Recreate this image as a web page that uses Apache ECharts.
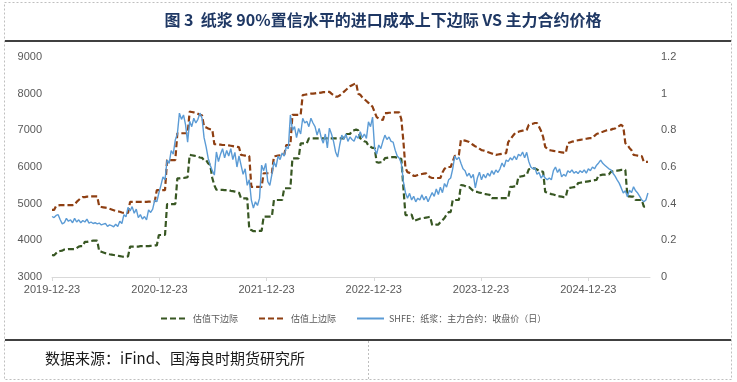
<!DOCTYPE html>
<html><head><meta charset="utf-8">
<script src="https://cdn.jsdelivr.net/npm/echarts@6/dist/echarts.min.js"></script>
<style>html,body{margin:0;padding:0;background:#fff}#c{width:737px;height:382px}</style>
</head><body><div id="c"></div>
<script>
// ---- data (weekly samples, starting 2019-12-23) ----
const startDate = [2019, 12, 23];
const axisEnd = [2025, 7, 21];
const xTickLabels = ['2019-12-23','2020-12-23','2021-12-23','2022-12-23','2023-12-23','2024-12-23'];
const seriesNames = ['估值下边际','估值上边际','SHFE：纸浆：主力合约：收盘价（日）'];

const lowerBound = [
3600,3590,3650,3700,3710,3720,3750,3750,3760,3760,3760,3760,3790,3830,3840,3840,
3960,3960,3970,3980,3990,3990,3990,
3700,3690,3670,3650,3640,3620,3610,3600,
3590,3580,3570,3560,3550,3550,3560,
3830,3830,3830,3830,3830,3840,3840,3840,3840,3840,3850,3855,3860,3860,
4145,4145,4145,4145,
4990,4990,4990,4990,4990,
5690,5690,5700,5700,5710,5720,
6330,6320,6310,6300,6280,6260,6250,6190,6190,6100,6055,5700,5500,
5380,5380,5375,5375,5370,5370,5370,5350,5340,5330,5320,5300,
5145,5145,5145,5145,4300,4280,4250,4250,4260,4260,4260,
4645,4645,4645,4645,4645,5100,5100,5100,5100,5100,5420,5420,5420,5420,
6235,6235,6235,6235,6645,6645,6645,6645,
6780,6780,6780,6780,6780,6780,6780,6780,6780,6780,6780,6780,6780,6780,6780,6780,6780,6780,
6900,6900,6900,6980,7000,7020,7000,
6780,6750,6700,6680,6580,6550,6520,6520,6130,6120,6130,6140,
6240,6250,6260,6270,6270,6270,6250,6230,6220,5430,
4690,4690,4700,4700,4530,4550,4570,4590,4600,4610,4620,4630,4640,
4420,4420,4430,4430,4500,4550,4610,4700,4770,4770,
5100,5100,5100,5100,5510,5500,5480,5450,5450,5400,5350,5320,
5320,5300,5290,5270,5260,5250,5240,
5150,5150,5150,5150,5150,5150,5150,5150,5150,
5460,5460,5470,5470,5735,5740,5750,5770,5780,5935,5950,5960,5960,5930,5900,5880,5870,
5320,5300,5280,5260,5250,5230,5210,5200,5190,5180,5180,
5420,5430,5440,5450,5460,5560,5570,5580,5590,5600,5610,5620,5630,5640,5650,
5780,5780,5790,5790,5800,5800,5870,5880,5890,5900,5910,5920,5920,5920,
5200,5200,5190,5190,5100,5100,5100,5100,4920,4920,4920
];

const upperBound = [
4830,4830,4940,4950,4960,4960,4960,4960,4960,4960,4960,4970,5050,5100,5150,5180,
5180,5190,5190,5200,5200,5200,5200,
4920,4910,4900,4890,4880,4860,4840,4820,4800,4790,4780,4760,4750,4745,4750,
5050,5050,5050,5050,5050,5050,5050,5050,5050,5055,5055,5060,5060,
5370,5370,5370,5370,5370,6190,6190,6190,6190,6190,
6920,6920,6920,6920,6920,6920,
7510,7500,7490,7480,7450,7420,7410,7100,7080,7050,7030,7020,
6620,6620,6610,6610,6600,6600,6600,6590,6580,6570,6560,6550,6540,
6330,6320,6310,6300,6300,
5460,5460,5460,5460,5460,5460,5830,5830,5830,5830,5830,
6290,6300,6310,6320,6330,6330,6600,6600,6600,
7420,7420,7420,7420,7420,
7960,7970,7980,7990,8000,8000,8010,8020,8020,8030,8040,8040,8050,8050,
8000,7960,7920,7920,7950,8000,8050,8100,8150,8200,8230,8260,8290,
8000,7970,7900,7850,7800,7750,7700,7640,7500,7360,7320,7300,7280,
7470,7470,7480,7480,7490,7490,7490,7490,7300,6700,5970,
5860,5840,5800,5760,5760,5780,5800,5810,5820,5830,5760,5720,5700,5700,5700,5700,5700,
5850,5950,6000,6000,6000,6150,6300,6320,6330,
6740,6730,6720,6700,6680,6640,6600,6560,6550,6500,6460,
6450,6430,6410,6390,6370,6350,6330,6340,6350,6360,6370,6380,
6680,6750,6830,6900,6950,6960,6980,6990,7000,7010,
7150,7170,7180,7200,7200,7100,6980,6820,6550,6500,6460,
6450,6440,6430,6420,6410,6400,6390,6380,
6650,6670,6690,6700,6720,6730,6740,6750,6760,6770,6780,6790,6790,
6850,6900,6920,6950,6960,6980,7000,7010,7020,7040,7050,7100,7120,7150,7100,
6650,6600,6520,6460,6330,6320,6310,6300,6300,6140,6140,6140
];

const closePrice = [
4650,4620,4680,4700,4560,4450,4480,4600,4520,4560,
4480,4600,4500,4560,4480,4540,4500,4580,4470,4500,
4460,4480,4450,4470,4420,4440,4460,4380,4420,4400,
4370,4440,4380,4520,4460,4700,4640,4900,4800,4920,
4740,4850,4620,4700,4580,4650,4560,4830,4760,4850,
5100,5050,5290,5500,5730,5650,6190,6100,6450,6350,
6740,6900,7470,7300,7420,7150,6680,7250,7100,7330,
7200,7300,7470,7330,6800,6550,6240,6050,5900,5780,
6410,6150,6350,6500,6250,6450,6300,6500,6200,6400,
6000,6300,6050,5800,5950,5500,5650,5100,4880,5050,
4950,5150,6050,5900,6100,5600,5500,5800,6140,6000,
6300,6200,6380,6300,6550,6500,7420,7000,7100,6800,
7050,6900,7330,7200,7250,7100,7330,7200,7100,6870,
7050,6800,6650,6900,6520,7060,6900,6700,6410,6270,
6600,6870,6750,6900,6700,6820,6750,6700,6850,6780,
6960,6800,6900,6780,7230,7100,7360,6500,6350,6600,
6500,6700,6870,6750,6820,6700,6680,6460,6300,6240,
6100,5600,5300,5150,5280,5100,5200,5050,5150,5100,
5240,5100,5200,5050,5180,5300,5200,5400,5250,5450,
5300,5550,5450,5650,5700,5950,6300,6200,6270,6100,
5950,5900,5750,5830,5700,5800,5430,5700,5860,5650,
5800,5700,5830,5750,5900,5800,5920,5850,5950,6110,
6000,6190,6150,6250,6190,6300,6200,6350,6300,6410,
6250,6400,6150,6000,5950,5980,5800,5850,5700,5780,
5700,5650,5700,5650,5900,6000,5850,5950,5730,5800,
5750,5900,5850,5920,5830,5880,5820,5900,5850,5920,
5830,5950,5900,6000,5950,6050,6110,6190,6100,6050,
6000,5950,5920,5830,5750,5650,5560,5430,5290,5350,
5190,5370,5300,5460,5350,5290,5200,5100,5050,5100,5290
];

// ---- helpers: x is measured in days since the start date ----
const DAY = 86400000;
function ymd(a){ return Date.UTC(a[0], a[1]-1, a[2]); }
const t0 = ymd(startDate);
function dayOf(a){ return Math.round((ymd(a) - t0) / DAY); }
function pair(arr){ return arr.map((v,i)=>[7*i, v]); }
const tickDays = xTickLabels.map(s => dayOf(s.split('-').map(Number)));
function pad(n){ return (n<10?'0':'')+n; }
function fmt(d){ const t = new Date(t0 + d*DAY); return t.getUTCFullYear()+'-'+pad(t.getUTCMonth()+1)+'-'+pad(t.getUTCDate()); }

const labelFont = 'Liberation Sans';
const cjk = 'Noto Sans CJK SC';
const chart = echarts.init(document.getElementById('c'), null, {renderer:'canvas'});
chart.setOption({
  animation: false,
  backgroundColor: '#fff',
  grid: { left: 52, right: 87, top: 57, bottom: 105, containLabel: false },
  legend: {
    data: seriesNames,
    left: 155, top: 309,
    itemWidth: 27, itemHeight: 10, itemGap: 20,
    itemStyle: { opacity: 0 },
    textStyle: { fontSize: 9, color: '#595959', fontFamily: cjk }
  },
  xAxis: {
    type: 'value',
    min: 0, max: dayOf(axisEnd),
    axisLine: { show: true, lineStyle: { color: '#D9D9D9', width: 1 } },
    axisTick: { show: true, length: 4, lineStyle: { color: '#D9D9D9' }, customValues: tickDays },
    axisLabel: { customValues: tickDays, formatter: (v)=>fmt(v), color: '#595959', fontSize: 11, fontFamily: labelFont, margin: 7 },
    splitLine: { show: false }
  },
  yAxis: [
    { type: 'value', min: 3000, max: 9000, interval: 1000,
      axisLine: { show: false }, axisTick: { show: false }, splitLine: { show: false },
      axisLabel: { color: '#595959', fontSize: 11, fontFamily: labelFont, margin: 10,
        formatter: (v)=>String(v) } },
    { type: 'value', position: 'right', min: 0, max: 1.2, interval: 0.2,
      axisLine: { show: false }, axisTick: { show: false }, splitLine: { show: false },
      axisLabel: { color: '#595959', fontSize: 11, fontFamily: labelFont, margin: 11,
        formatter: (v)=>String(Math.round(v*10)/10) } }
  ],
  series: [
    { name: seriesNames[0], type: 'line', data: pair(lowerBound), showSymbol: false, symbol: 'none',
      lineStyle: { color: '#385723', width: 2.2, type: [6, 3] }, itemStyle: { color: '#385723' }, z: 3 },
    { name: seriesNames[1], type: 'line', data: pair(upperBound), showSymbol: false, symbol: 'none',
      lineStyle: { color: '#8E3F12', width: 2.2, type: [6, 3] }, itemStyle: { color: '#8E3F12' }, z: 3 },
    { name: seriesNames[2], type: 'line', data: pair(closePrice), showSymbol: false, symbol: 'none',
      lineStyle: { color: '#5B9BD5', width: 1.4 }, itemStyle: { color: '#5B9BD5' }, z: 4 }
  ],
  graphic: [
    { type: 'rect', shape: { x: 4.5, y: 2.5, width: 727, height: 377 }, silent: true,
      style: { fill: 'none', stroke: '#BFBFBF', lineWidth: 1, lineDash: [2, 2] } },
    { type: 'line', shape: { x1: 5, y1: 41, x2: 731, y2: 41 }, style: { stroke: '#000', lineWidth: 1.5 } },
    { type: 'line', shape: { x1: 5, y1: 340, x2: 731, y2: 340 }, style: { stroke: '#000', lineWidth: 1.5 } },
    { type: 'line', shape: { x1: 368.5, y1: 341, x2: 368.5, y2: 379 }, style: { stroke: '#BFBFBF', lineWidth: 1, lineDash: [2, 2] } },
    { type: 'text', x: 383, y: 20, style: { text: '图 3  纸浆 90%置信水平的进口成本上下边际 VS 主力合约价格',
        font: 'bold 16px "' + cjk + '"', fill: '#1F3864', textAlign: 'center', textVerticalAlign: 'middle' } },
    { type: 'text', x: 45, y: 358, style: { text: '数据来源：iFind、国海良时期货研究所',
        font: '15px "' + cjk + '"', fill: '#1a1a1a', textAlign: 'left', textVerticalAlign: 'middle' } }
  ]
});
</script></body></html>
